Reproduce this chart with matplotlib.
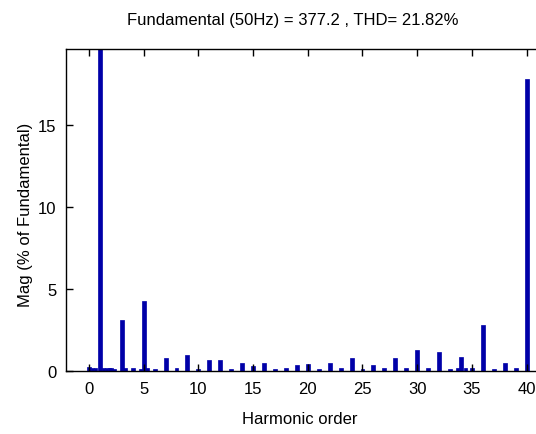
import matplotlib
matplotlib.use("Agg")
import matplotlib.pyplot as plt

# --- datos ---
harmonics = list(range(0, 41))
mag = [0.25, 100, 0.2, 3.1, 0.2, 4.25, 0.15, 0.8, 0.2, 1.0,
       0.1, 0.7, 0.7, 0.15, 0.5, 0.3, 0.5, 0.15, 0.2, 0.35,
       0.4, 0.15, 0.5, 0.2, 0.8, 0.15, 0.35, 0.2, 0.8, 0.2,
       1.3, 0.2, 1.15, 0.15, 0.85, 0.2, 2.8, 0.15, 0.5, 0.2,
       17.8]
# componentes entre armonicos (pequenas)
inter_pos = [0.3, 0.6, 1.3, 1.6, 1.9, 2.3, 3.3, 4.7, 5.3, 33.7, 34.4]
inter_mag = [0.2, 0.2, 0.2, 0.2, 0.2, 0.15, 0.2, 0.15, 0.2, 0.2, 0.2]

title = "Fundamental (50Hz) = 377.2 , THD= 21.82%"
xticks = [0, 5, 10, 15, 20, 25, 30, 35, 40]
yticks = [0, 5, 10, 15]

plt.rcParams["font.family"] = ["Liberation Sans", "DejaVu Sans"]

fig = plt.figure(figsize=(5.36, 4.35), dpi=100)
ax = fig.add_axes([0.1231, 0.1448, 0.89, 0.740])

bar_color = "#0000a8"
ax.bar(harmonics, mag, width=0.36, color=bar_color, edgecolor=bar_color, linewidth=0.5)
ax.bar(inter_pos, inter_mag, width=0.3, color=bar_color, edgecolor=bar_color, linewidth=0.5)

ax.set_xlim(-2.1, 41.5)
ax.set_ylim(0, 19.6)
ax.set_xticks(xticks)
ax.set_yticks(yticks)
ax.tick_params(direction="in", length=5, width=1, top=True, right=True,
               labelsize=12, pad=7)
for s in ax.spines.values():
    s.set_linewidth(1.0)

fig.text(0.547, 0.954, title, ha="center", va="center", fontsize=12)
fig.text(0.56, 0.0345, "Harmonic order", ha="center", va="center", fontsize=12)
fig.text(0.047, 0.506, "Mag (% of Fundamental)", ha="center", va="center",
         rotation=90, fontsize=12)

fig.savefig("out.png", dpi=100)
